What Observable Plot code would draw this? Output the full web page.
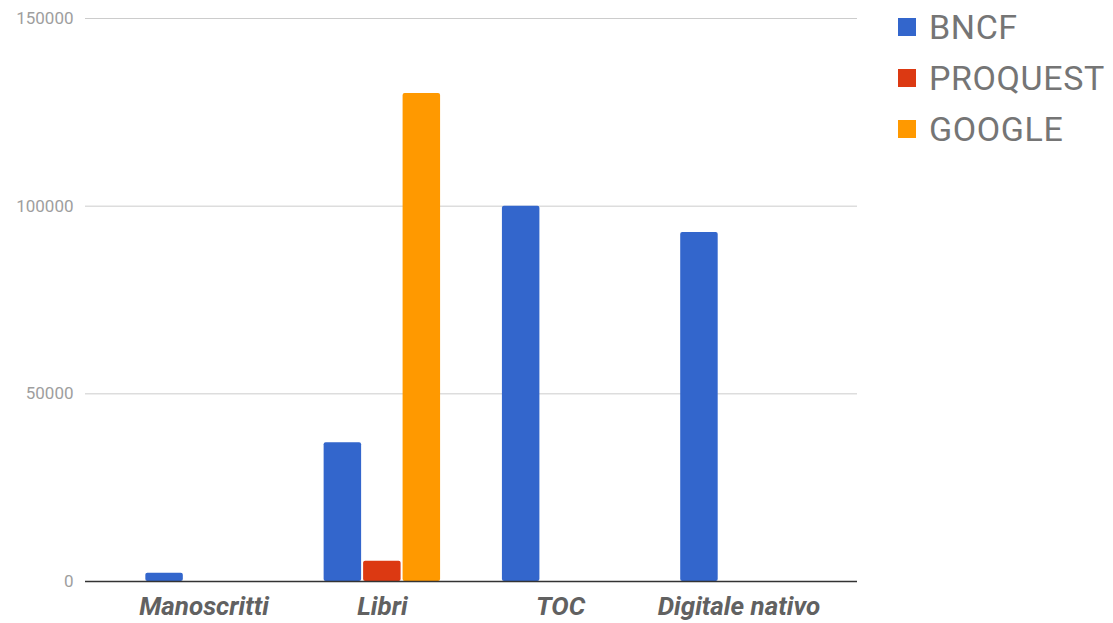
<!DOCTYPE html>
<html>
<head>
<meta charset="utf-8">
<script src="https://cdn.jsdelivr.net/npm/d3@7"></script>
<script src="https://cdn.jsdelivr.net/npm/@observablehq/plot@0.6"></script>
<style>
  html, body { margin: 0; padding: 0; background: #fff; }
  #wrap { position: relative; width: 1113px; height: 623px; font-family: Roboto, "Noto Sans", sans-serif; }
  #legend { position: absolute; left: 898px; top: 1px; }
  .item { display: flex; align-items: center; height: 51px; }
  .sw { width: 18px; height: 18px; margin-right: 13px; }
  .lab { font-size: 34px; line-height: 40px; color: #757575; letter-spacing: 0.6px; }
</style>
</head>
<body>
<div id="wrap"></div>
<script>
const categories = ["Manoscritti", "Libri", "TOC", "Digitale nativo"];
const seriesNames = ["BNCF", "PROQUEST", "GOOGLE"];
const seriesColors = ["#3366cc", "#dc3912", "#ff9900"];
const BNCF = [2200, 37000, 100000, 93000];
const PROQUEST = [0, 5400, 0, 0];
const GOOGLE = [0, 130000, 0, 0];
const yTicks = [0, 50000, 100000, 150000];

const seriesValues = [BNCF, PROQUEST, GOOGLE];
const data = [];
seriesNames.forEach((s, i) => categories.forEach((c, j) => data.push({category: c, series: s, value: seriesValues[i][j]})));

const W = 1113, H = 623, mL = 85, mR = 256, mT = 18, mB = 42;
const pad = 0.33;
const step = (W - mL - mR) / (categories.length + pad);
const bw = step * (1 - pad);
const gap = 2;
const barW = (bw - 3 - gap * 2) / 3;

const barMarks = seriesNames.map((s, i) => {
  const left = 1.5 + i * (barW + gap);
  return Plot.barY(data.filter(d => d.series === s && d.value > 0), {
    x: "category", y: "value", fill: seriesColors[i],
    insetLeft: left, insetRight: bw - left - barW, rx: 2
  });
});

const chart = Plot.plot({
  width: W, height: H,
  marginLeft: mL, marginRight: mR, marginTop: mT, marginBottom: mB,
  style: {fontFamily: "Roboto, sans-serif", background: "transparent"},
  x: {domain: categories, padding: pad, round: false, label: null},
  y: {domain: [0, 150000], label: null},
  marks: [
    Plot.ruleY(yTicks, {stroke: "#cccccc", strokeWidth: 1}),
    ...barMarks,
    Plot.ruleY([0], {stroke: "#333333", strokeWidth: 1.3}),
    Plot.axisY(yTicks, {tickSize: 0, tickPadding: 12, tickFormat: d => String(d), fontSize: 17, fill: "#9e9e9e", label: null}),
    Plot.axisX({tickSize: 0, tickPadding: 15, fontSize: 26, fontWeight: "bold", fontStyle: "italic", fill: "#616161", label: null, style: {letterSpacing: "0.5px"}})
  ]
});
const wrap = document.getElementById("wrap");
wrap.appendChild(chart);

const legend = document.createElement("div");
legend.id = "legend";
seriesNames.forEach((s, i) => {
  const it = document.createElement("div");
  it.className = "item";
  const sw = document.createElement("div");
  sw.className = "sw";
  sw.style.background = seriesColors[i];
  const lab = document.createElement("span");
  lab.className = "lab";
  lab.textContent = s;
  it.appendChild(sw); it.appendChild(lab);
  legend.appendChild(it);
});
wrap.appendChild(legend);
</script>
</body>
</html>
